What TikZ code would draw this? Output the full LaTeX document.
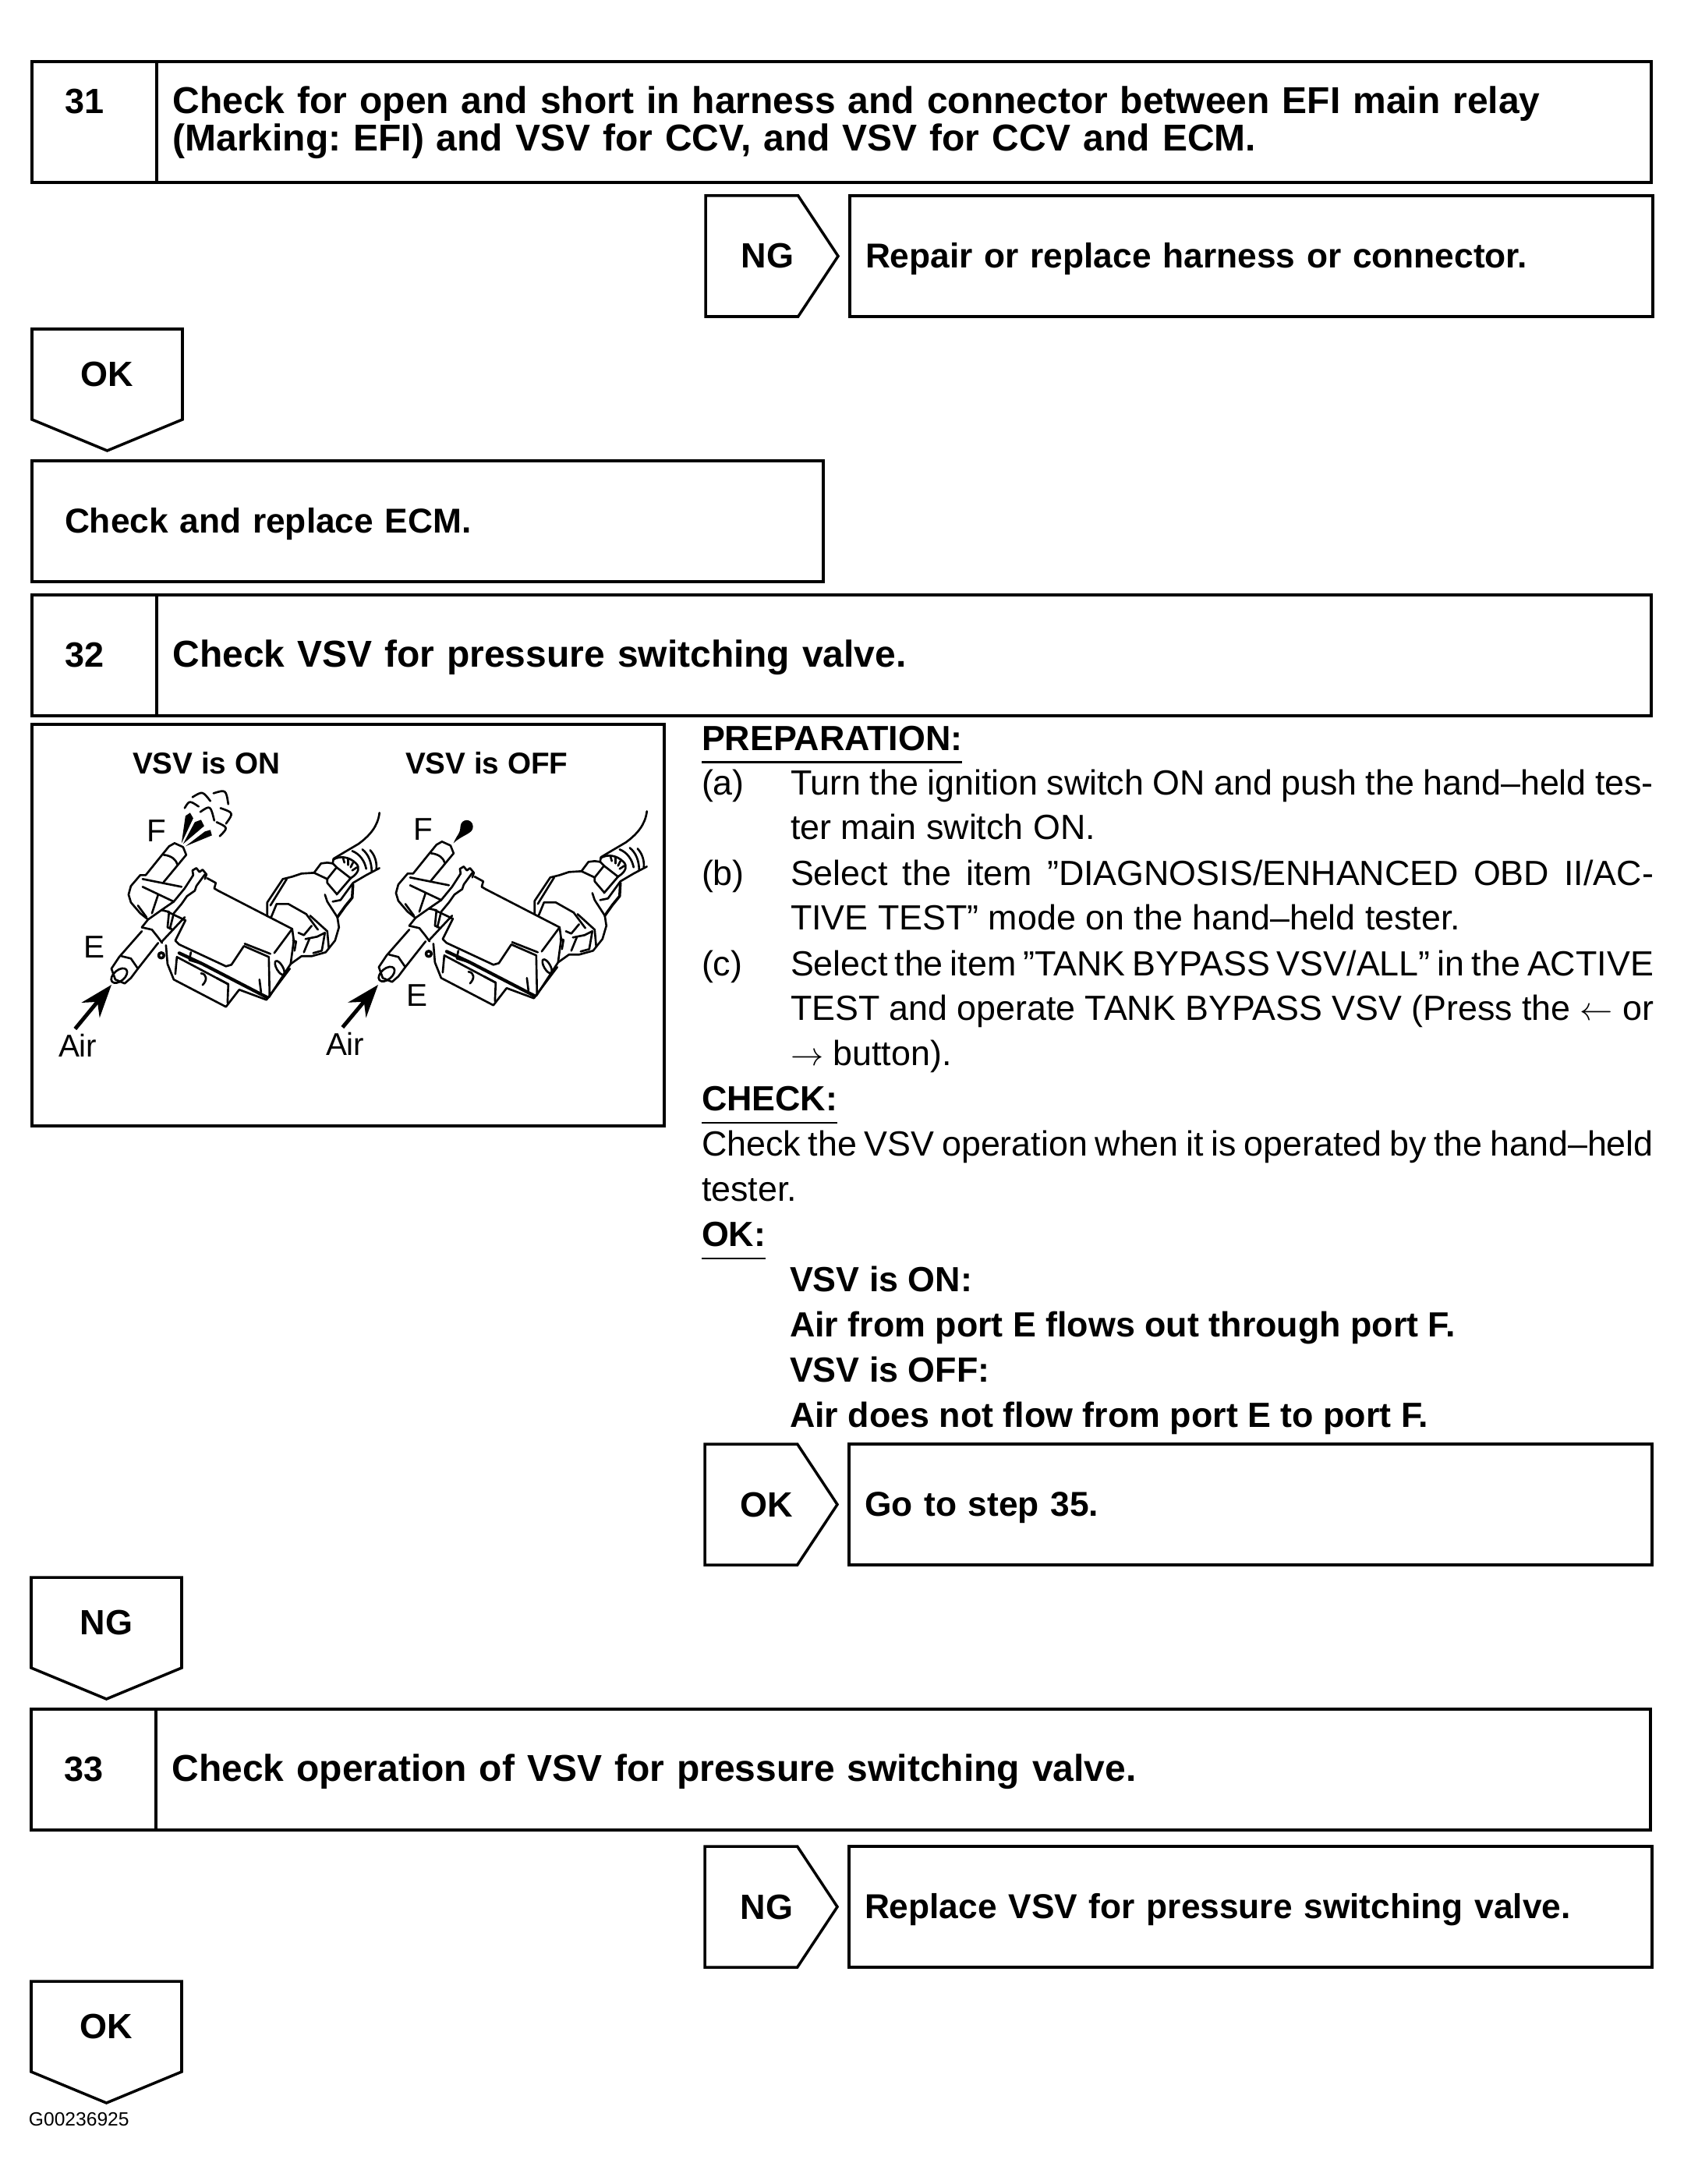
\documentclass[tikz,border=0pt]{standalone}
\usepackage{fontspec}
\setmainfont{Liberation Sans}
\frenchspacing
\usepackage{tikz}
\usetikzlibrary{positioning,shapes.symbols,arrows.meta}

\begin{document}
\begin{tikzpicture}[
    every node/.style={inner sep=0pt, outer sep=0pt},
    cell/.style={rectangle, draw, line width=1pt, minimum height=1.55cm, font=\fontsize{12.6}{13.4}\selectfont\bfseries, align=left, text height=0.30cm, text depth=0pt},
    stepnum/.style={cell, text width=0.76cm, inner xsep=0.42cm, font=\fontsize{12.8}{13.4}\selectfont\bfseries},
    steptitle/.style={cell, text width=18.76cm, inner xsep=0.205cm, font=\fontsize{13.65}{13.4}\selectfont\bfseries},
    resultbox/.style={cell, text width=9.90cm, inner xsep=0.20cm},
    tagfont/.style={font=\fontsize{12.8}{13.4}\selectfont\bfseries},
    tagright/.style={signal, draw, line width=1pt, signal to=east, signal from=nowhere, signal pointer angle=113, minimum width=1.70cm, minimum height=1.55cm, tagfont, execute at begin node=\hspace*{0.40cm}},
    tagdown/.style={signal, draw, line width=1pt, signal to=south, signal from=nowhere, signal pointer angle=135, minimum width=1.93cm, minimum height=1.30cm, tagfont, text height=0.30cm, text depth=0pt},
    headline/.style={anchor=base west, font=\fontsize{12.75}{16.5}\selectfont\bfseries},
    bodytext/.style={anchor=base west, text width=11.07cm, align=justify, font=\fontsize{12.75}{16.5}\selectfont},
    itemlabel/.style={anchor=base west, font=\fontsize{12.75}{16.5}\selectfont},
    rulemark/.style={line width=0.8pt},
    picbold/.style={anchor=base west, font=\fontsize{11}{12}\selectfont\bfseries},
    piclabel/.style={anchor=base west, font=\fontsize{11.5}{12}\selectfont},
    airarrow/.style={-{Stealth[length=0.42cm, width=0.30cm]}, line width=1.4pt, shorten <=0.08cm},
    sketch/.style={line width=0.75pt, line join=round, line cap=round},
    valve/.pic={
        \begin{scope}[x=0.01cm, y=-0.01cm, sketch]
        \draw (187,1123) -- (208,1097) -- (217,1086) -- (224,1082) -- (235,1087) -- (239,1097) -- (210,1132);
        \draw (210,1097) .. controls (220,1098) and (226,1103) .. (228,1110);
        \draw (187,1123) -- (180,1123) -- (168,1137) -- (165,1148) -- (168,1158) -- (180,1172) -- (190,1180);
        \draw (183,1128) -- (233,1138);
        \draw (183,1138) -- (223,1157);
        \draw (203,1148) -- (195,1172);
        \draw (177,1162) -- (188,1177);
        \draw (263,1122) -- (252,1137) -- (250,1143) -- (240,1150) -- (233,1160) -- (223,1172) -- (218,1192);
        \draw (248,1123) -- (237,1140) -- (223,1157) -- (207,1168) -- (217,1170) -- (215,1190) -- (222,1193);
        \draw (248,1123) -- (247,1117) -- (252,1114) -- (256,1119) -- (260,1116) -- (265,1122) -- (263,1128);
        \draw (266,1127) -- (277,1133) -- (275,1140) -- (280,1143) -- (375,1192);
        \draw (375,1192) -- (352,1223);
        \draw (375,1192) -- (377,1207) -- (373,1237) -- (345,1280);
        \draw (215,1170) -- (238,1181) -- (225,1207) -- (230,1212) -- (290,1240) -- (297,1238) -- (313,1214) -- (345,1228) -- (346,1277);
        \draw (314,1211) -- (347,1224);
        \draw (182,1190) -- (190,1180) -- (207,1168);
        \draw (182,1195) -- (153,1228) -- (143,1243) -- (148,1257) -- (160,1262) -- (168,1255) -- (177,1243) -- (203,1210);
        \draw (182,1190) -- (195,1193) -- (203,1203) -- (208,1210);
        \draw (208,1208) -- (237,1177);
        \draw (156,1227) -- (168,1230) -- (177,1243);
        \draw[rotate around={40:(153,1252)}] (153,1252) ellipse [x radius=12, y radius=7];
        \draw[line width=1pt] (207,1226) circle [radius=3.5];
        \draw (213,1213) -- (215,1237) -- (223,1257) -- (290,1292) -- (307,1270) -- (342,1283) -- (372,1243);
        \draw (225,1250) -- (227,1228) -- (293,1263) -- (292,1287);
        \draw[line width=1.2pt] (230,1223) -- (260,1237) -- (343,1280);
        \draw (258,1249) .. controls (266,1250) and (266,1258) .. (260,1264);
        \draw (278,1255) -- (293,1263);
        \draw (245,1222) -- (243,1232) -- (260,1237);
        \draw (333,1257) -- (335,1273);
        \draw[rotate around={-60:(359,1242)}] (359,1242) ellipse [x radius=10, y radius=4];
        \draw (343,1175) -- (343,1158) -- (363,1128) -- (375,1125) -- (387,1121) -- (403,1120) -- (412,1108) -- (420,1107) -- (427,1108);
        \draw (347,1162) -- (368,1128);
        \draw (348,1177) -- (355,1160) -- (370,1160) -- (393,1173) -- (408,1193);
        \draw (403,1120) -- (420,1128) -- (432,1113) -- (427,1108);
        \draw (420,1128) -- (420,1133) -- (432,1147);
        \draw (432,1113) -- (450,1127) -- (432,1148);
        \draw (417,1148) -- (420,1157) -- (433,1177) -- (435,1190) -- (430,1207) -- (418,1222) -- (400,1227) -- (387,1227) -- (373,1237);
        \draw[line width=1pt] (453,1135) -- (452,1152) -- (443,1163) -- (433,1177);
        \draw (453,1133) -- (437,1155) -- (427,1157);
        \draw (398,1175) -- (420,1195) -- (422,1217);
        \draw (400,1188) -- (390,1200) -- (383,1197);
        \draw (392,1205) -- (407,1202) -- (417,1197) -- (413,1220) -- (402,1223);
        \draw (397,1205) -- (390,1222);
        \draw (376,1207) -- (380,1208) -- (378,1220);
        \draw (487,1043) .. controls (485,1060) and (475,1072) .. (460,1083) -- (443,1093) -- (428,1102) -- (427,1108);
        \draw (487,1114) -- (470,1123) -- (453,1133);
        \draw (452,1092) .. controls (462,1096) and (468,1105) .. (470,1115);
        \draw (465,1090) .. controls (473,1096) and (477,1107) .. (477,1118);
        \draw (475,1091) .. controls (481,1097) and (484,1107) .. (483,1115);
        \draw (428,1103) .. controls (436,1098) and (448,1099) .. (457,1108) .. controls (462,1113) and (461,1120) .. (450,1127);
        \draw (440,1100) -- (442,1107);
        \draw (447,1102) -- (447,1110);
        \draw (453,1107) -- (450,1113);
        \draw (458,1113) -- (452,1117);
        \end{scope}
    }
]
\useasboundingbox (0,0) rectangle (21.59,-28.01);

\node[stepnum, anchor=north west, text depth=0.51cm] (num31) at (0.41,-0.79) {31};
\node[steptitle, right=0cm of num31, text depth=0.51cm] (title31) {Check for open and short in harness and connector between EFI main relay\\(Marking: EFI) and VSV for CCV, and VSV for CCV and ECM.};
\node[tagright, anchor=north west] (ng31) at (9.05,-2.51) {NG};
\node[resultbox, right=0.15cm of ng31] (repair) {Repair or replace harness or connector.};
\node[tagdown, anchor=north west] (ok31) at (0.41,-4.22) {OK};
\node[resultbox, anchor=north west, text width=9.31cm, inner xsep=0.42cm] (ecm) at (0.41,-5.91) {Check and replace ECM.};

\node[stepnum, anchor=north west] (num32) at (0.41,-7.63) {32};
\node[steptitle, right=0cm of num32] (title32) {Check VSV for pressure switching valve.};

\node[draw, line width=1pt, anchor=north west, minimum width=8.11cm, minimum height=5.15cm] (figbox) at (0.41,-9.29) {};
\node[picbold] (onlabel) at (1.70,-9.92) {VSV is ON};
\node[picbold] (offlabel) at (5.20,-9.92) {VSV is OFF};
\pic at (0,0) {valve};
\pic at (3.43,0.02) {valve};
\begin{scope}[x=0.01cm, y=-0.01cm]
\fill (233,1082) -- (238,1047) -- (244,1043) -- (248,1050) -- cycle;
\fill (235,1083) -- (250,1055) -- (258,1052) -- (262,1060) -- cycle;
\fill (238,1086) -- (263,1067) -- (270,1065) -- (272,1072) -- cycle;
\draw[sketch] (237,1037) .. controls (243,1027) .. (255,1035);
\draw[sketch] (247,1023) .. controls (260,1015) .. (270,1028);
\draw[sketch] (274,1018) .. controls (290,1013) .. (293,1032);
\draw[sketch] (257,1042) .. controls (270,1033) .. (275,1053);
\draw[sketch] (283,1037) .. controls (300,1043) .. (290,1057);
\draw[sketch] (278,1055) .. controls (293,1062) .. (282,1073);
\fill (582,1082) .. controls (588,1068) and (590,1072) .. (591,1060) .. controls (592,1050) and (606,1050) .. (607,1060) .. controls (608,1070) and (595,1070) .. cycle;
\end{scope}
\node[piclabel] (portf1) at (1.88,-10.79) {F};
\node[piclabel] (porte1) at (1.07,-12.28) {E};
\node[piclabel] (air1) at (0.75,-13.55) {Air};
\node[piclabel] (portf2) at (5.30,-10.77) {F};
\node[piclabel] (porte2) at (5.21,-12.90) {E};
\node[piclabel] (air2) at (4.18,-13.53) {Air};
\coordinate (tip1) at (1.43,-12.63);
\coordinate (tip2) at (4.85,-12.63);
\draw[airarrow] (air1.120) -- (tip1);
\draw[airarrow] (air2.120) -- (tip2);

\node[headline] (prep) at (9.00,-9.62) {PREPARATION:};
\draw[rulemark] ([yshift=-0.155cm]prep.base west) -- ([yshift=-0.155cm]prep.base east);
\node[itemlabel] (labela) at (9.00,-10.19) {(a)};
\node[bodytext] (itema) at (10.14,-10.19) {Turn the ignition switch ON and push the hand–held tes-\linebreak ter main switch ON.};
\node[itemlabel] (labelb) at (9.00,-11.35) {(b)};
\node[bodytext] (itemb) at (10.14,-11.35) {Select the item ”DIAGNOSIS/ENHANCED OBD II/AC-\linebreak TIVE TEST” mode on the hand–held tester.};
\node[itemlabel] (labelc) at (9.00,-12.51) {(c)};
\node[bodytext] (itemc) at (10.14,-12.51) {Select the item ”TANK BYPASS VSV/ALL” in the ACTIVE\linebreak TEST and operate TANK BYPASS VSV (Press the $\leftarrow$ or\linebreak $\rightarrow$ button).};
\node[headline] (check) at (9.00,-14.24) {CHECK:};
\draw[rulemark] ([yshift=-0.16cm]check.base west) -- ([yshift=-0.16cm]check.base east);
\node[bodytext, text width=12.21cm] (checktext) at (9.00,-14.82) {Check the VSV operation when it is operated by the hand–held\linebreak tester.};
\node[headline] (okhead) at (9.00,-15.98) {OK:};
\draw[rulemark] ([yshift=-0.16cm]okhead.base west) -- ([yshift=-0.16cm]okhead.base east);
\node[headline] (okon) at (10.13,-16.56) {VSV is ON:};
\node[headline] (okflow) at (10.13,-17.14) {Air from port E flows out through port F.};
\node[headline] (okoff) at (10.13,-17.72) {VSV is OFF:};
\node[headline] (oknoflow) at (10.13,-18.30) {Air does not flow from port E to port F.};
\node[tagright, anchor=north west] (ok32) at (9.04,-18.52) {OK};
\node[resultbox, right=0.15cm of ok32] (gostep) {Go to step 35.};
\node[tagdown, anchor=north west] (ng32) at (0.40,-20.23) {NG};

\node[stepnum, anchor=north west] (num33) at (0.40,-21.92) {33};
\node[steptitle, right=0cm of num33] (title33) {Check operation of VSV for pressure switching valve.};
\node[tagright, anchor=north west] (ng33) at (9.04,-23.68) {NG};
\node[resultbox, right=0.15cm of ng33] (replace) {Replace VSV for pressure switching valve.};
\node[tagdown, anchor=north west] (ok33) at (0.40,-25.41) {OK};
\node[anchor=base west, font=\fontsize{7}{8}\selectfont] (partno) at (0.37,-27.26) {G00236925};
\end{tikzpicture}
\end{document}
